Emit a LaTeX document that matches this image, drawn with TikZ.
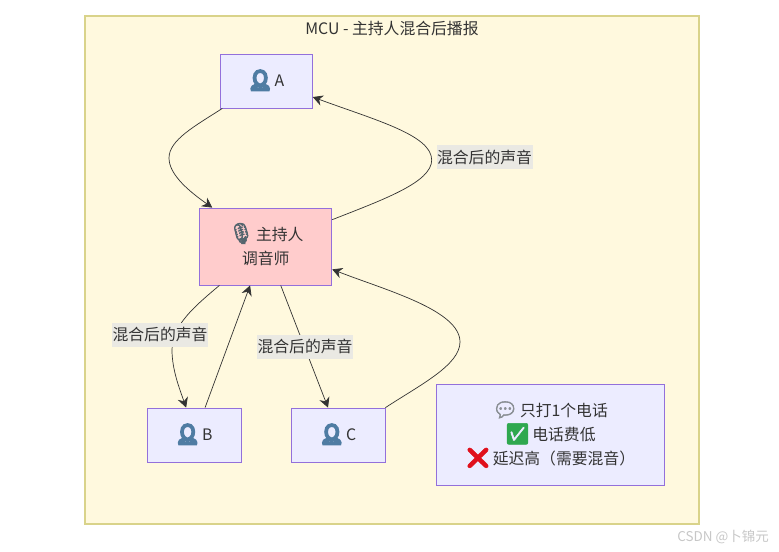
\documentclass[tikz,border=0pt]{standalone}
\usepackage{fontspec}
\setmainfont{Noto Sans CJK SC}
\newfontfamily\emojifont[Scale=1.3,FakeBold=2.5]{Noto Emoji}
\newfontfamily\personfont[Scale=1.2,FakeBold=16]{Noto Emoji}
\usetikzlibrary{arrows.meta}
\definecolor{clusterfill}{HTML}{FFF9DE}
\definecolor{clusterline}{HTML}{D9D38A}
\definecolor{nodefill}{HTML}{ECECFF}
\definecolor{nodeline}{HTML}{9370DB}
\definecolor{hostfill}{HTML}{FFCCCC}
\definecolor{labelfill}{HTML}{EAE9E3}
\definecolor{inkdark}{HTML}{333333}
\newcommand{\person}{\smash{\personfont\textcolor[HTML]{4F7CA3}{👤}}\hspace{2pt}}
\newcommand{\icon}[2]{\smash{\emojifont\textcolor[HTML]{#1}{#2}}\hspace{1.5pt}}
\tikzset{
  basefont/.style={font=\fontsize{13.5}{20.5}\selectfont, text=inkdark},
  boxnode/.style={draw=nodeline, fill=nodefill, line width=0.7pt, inner sep=0pt, align=center, basefont},
  edgelabel/.style={fill=labelfill, inner sep=0pt, minimum width=2.88cm, minimum height=0.72cm, basefont},
  link/.style={draw=inkdark, line width=0.6pt, -{Stealth[length=8.5pt,width=9pt]}}
}
\begin{document}
\begin{tikzpicture}[x=0.03cm,y=-0.03cm]
\useasboundingbox (0,0) rectangle (779,551);
\node[draw=clusterline, fill=clusterfill, line width=1pt, minimum width=18.42cm, minimum height=15.24cm] (cluster) at (392,270) {};
\node[basefont] (title) at (392,28.5) {MCU - 主持人混合后播报};

\node[boxnode, minimum width=2.77cm, minimum height=1.62cm] (a) at (266.2,81) {\person A};
\node[boxnode, fill=hostfill, minimum width=3.96cm, minimum height=2.31cm] (host) at (265.8,246.5) {\icon{55656E}{🎙}主持人\\调音师};
\node[boxnode, minimum width=2.82cm, minimum height=1.62cm] (b) at (194,435) {\person B};
\node[boxnode, minimum width=2.82cm, minimum height=1.62cm] (c) at (338,435) {\person C};
\node[boxnode, minimum width=6.84cm, minimum height=3.03cm] (note) at (550,435) {\icon{8A8F94}{💬}只打1个电话\\\icon{2FA84F}{✅}电话费低\\\icon{E0101C}{❌}延迟高（需要混音）};

\coordinate (bendab) at (169,158);
\coordinate (bendba) at (431.7,160);
\coordinate (bendhb) at (172,350);
\coordinate (bendch) at (460,342);

\draw[link] (a.212) .. controls (195,126) and (169,140) .. (bendab) .. controls (169,175) and (190,192) .. (host.144);
\draw[link] (host.22) .. controls (385,199) and (431.7,182) .. (bendba) .. controls (431.7,135) and (375,120) .. (a.-19);
\draw[link] (host.220) .. controls (195,306) and (172,325) .. (bendhb) .. controls (172,370) and (180,390) .. (b.106);
\draw[link] (b.68) -- (host.248);
\draw[link] (host.-69) -- (c.110);
\draw[link] (c.30) .. controls (420,385) and (460,365) .. (bendch) .. controls (460,310) and (385,290) .. (host.-19);

\node[edgelabel] (labelba) at (484.5,157) {混合后的声音};
\node[edgelabel] (labelhb) at (160,334.5) {混合后的声音};
\node[edgelabel] (labelhc) at (305,346.5) {混合后的声音};
\node[font=\fontsize{11.5}{14}\selectfont, text=black!22] (mark) at (723,537) {CSDN @卜锦元};
\end{tikzpicture}
\end{document}
